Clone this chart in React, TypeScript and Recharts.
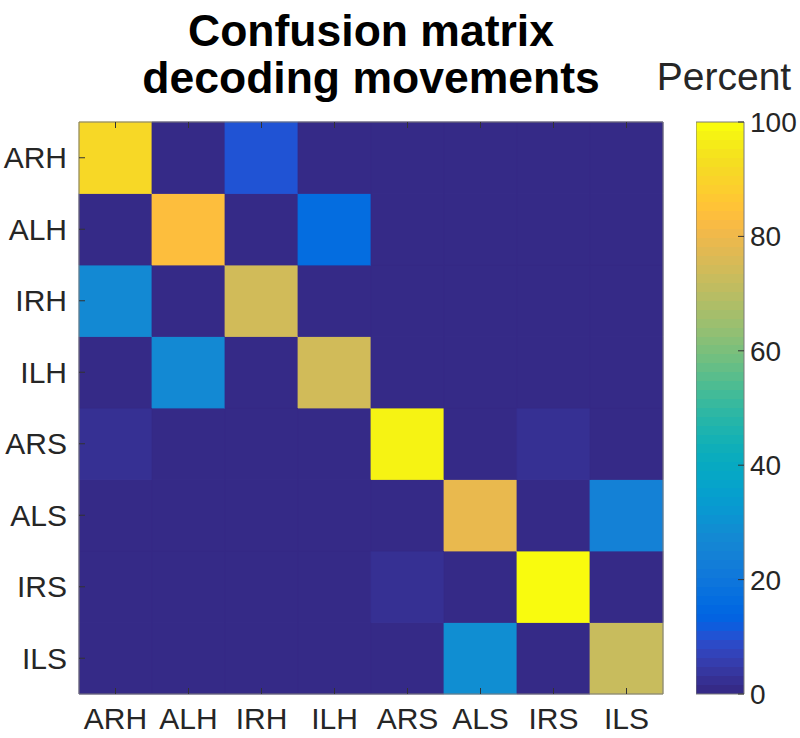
import React from 'react';
import { BarChart, Bar, XAxis, YAxis, Cell } from 'recharts';

// ---------- data ----------
const classLabels = ['ARH', 'ALH', 'IRH', 'ILH', 'ARS', 'ALS', 'IRS', 'ILS'];

// rows = true movement, columns = decoded movement (percent)
const rowARH = [91, 0, 10, 0, 0, 0, 0, 0];
const rowALH = [0, 84, 0, 16, 0, 0, 0, 0];
const rowIRH = [27, 0, 74, 0, 0, 0, 0, 0];
const rowILH = [0, 27, 0, 74, 0, 0, 0, 0];
const rowARS = [3, 0, 0, 0, 97, 0, 3, 0];
const rowALS = [0, 0, 0, 0, 0, 79, 0, 24];
const rowIRS = [0, 0, 0, 0, 3, 0, 100, 0];
const rowILS = [0, 0, 0, 0, 0, 29, 0, 72];
const matrix = [rowARH, rowALH, rowIRH, rowILH, rowARS, rowALS, rowIRS, rowILS];

const rowTickValues = [0.5, 1.5, 2.5, 3.5, 4.5, 5.5, 6.5, 7.5];
const colorbarTicks = [0, 20, 40, 60, 80, 100];
const colorbarMax = 100;
const titleLines = ['Confusion matrix', 'decoding movements'];
const colorbarTitle = 'Percent';

// MATLAB parula(64)
const PARULA: number[][] = [
  [0.2081, 0.1663, 0.5292], [0.2116, 0.1898, 0.5777], [0.2123, 0.2138, 0.627], [0.2081, 0.2386, 0.6771],
  [0.1959, 0.2645, 0.7279], [0.1707, 0.2919, 0.7792], [0.1253, 0.3242, 0.8303], [0.0591, 0.3598, 0.8683],
  [0.0117, 0.3875, 0.882], [0.006, 0.4086, 0.8828], [0.0165, 0.4266, 0.8786], [0.0329, 0.443, 0.872],
  [0.0498, 0.4586, 0.8641], [0.0629, 0.4737, 0.8554], [0.0723, 0.4887, 0.8467], [0.0779, 0.504, 0.8384],
  [0.0793, 0.52, 0.8312], [0.0749, 0.5375, 0.8263], [0.0641, 0.557, 0.824], [0.0488, 0.5772, 0.8228],
  [0.0343, 0.5966, 0.8199], [0.0265, 0.6137, 0.8135], [0.0239, 0.6287, 0.8038], [0.0231, 0.6418, 0.7913],
  [0.0228, 0.6535, 0.7768], [0.0267, 0.6642, 0.7607], [0.0384, 0.6743, 0.7436], [0.059, 0.6838, 0.7254],
  [0.0843, 0.6928, 0.7062], [0.1133, 0.7015, 0.6859], [0.1453, 0.7098, 0.6646], [0.1801, 0.7177, 0.6424],
  [0.2178, 0.725, 0.6193], [0.2586, 0.7317, 0.5954], [0.3022, 0.7376, 0.5712], [0.3482, 0.7424, 0.5473],
  [0.3953, 0.7459, 0.5244], [0.442, 0.7481, 0.5033], [0.4871, 0.7491, 0.484], [0.53, 0.7491, 0.4661],
  [0.5709, 0.7485, 0.4494], [0.6099, 0.7473, 0.4337], [0.6473, 0.7456, 0.4188], [0.6834, 0.7435, 0.4044],
  [0.7184, 0.7411, 0.3905], [0.7525, 0.7384, 0.3768], [0.7858, 0.7356, 0.3633], [0.8185, 0.7327, 0.3498],
  [0.8507, 0.7299, 0.336], [0.8824, 0.7274, 0.3217], [0.9139, 0.7258, 0.3063], [0.945, 0.7261, 0.2886],
  [0.9739, 0.7314, 0.2666], [0.9938, 0.7455, 0.2403], [0.999, 0.7653, 0.2164], [0.9955, 0.7861, 0.1967],
  [0.988, 0.8066, 0.1794], [0.9789, 0.8271, 0.1633], [0.9697, 0.8481, 0.1475], [0.9626, 0.8705, 0.1309],
  [0.9589, 0.8949, 0.1132], [0.9598, 0.9218, 0.0948], [0.9661, 0.9514, 0.0755], [0.9763, 0.9831, 0.0538],
];

const rgb = (c: number[]) =>
  `rgb(${Math.round(c[0] * 255)},${Math.round(c[1] * 255)},${Math.round(c[2] * 255)})`;

const parula = (v: number) => {
  const n = PARULA.length;
  const idx = Math.max(0, Math.min(n - 1, Math.floor((v / colorbarMax) * n)));
  return rgb(PARULA[idx]);
};

// one record per decoded column; every true-movement row occupies one unit slot of the stack
const heatData = classLabels.map((col) => {
  const d: Record<string, any> = { col };
  classLabels.forEach((row) => {
    d[row] = 1;
  });
  return d;
});

const colorbarData = [{ name: colorbarTitle, v: colorbarMax }];

const FONT = '"Liberation Sans", Arial, Helvetica, sans-serif';
const TEXT = '#262626';
const AXIS = '#7a7a7a';
const TICK = '#333333';

export default function App() {
  const stackOrder = [...classLabels].reverse();
  return (
    <div
      style={{
        position: 'absolute',
        left: 0,
        top: 0,
        width: 800,
        height: 738,
        background: '#fff',
        overflow: 'hidden',
        fontFamily: FONT,
      }}
    >
      <div style={{ position: 'absolute', left: 0, top: 0 }}>
        <BarChart
          width={800}
          height={738}
          data={heatData}
          margin={{ top: 92, right: 97, bottom: 14, left: 39 }}
          barCategoryGap={0}
          barGap={0}
        >
          {stackOrder.map((row) => {
            const r = classLabels.indexOf(row);
            return (
              <Bar key={row} dataKey={row} stackId="m" xAxisId="bottom" yAxisId="left" isAnimationActive={false}>
                {classLabels.map((col, j) => {
                  const c = parula(matrix[r][j]);
                  return <Cell key={col} fill={c} stroke={c} strokeWidth={0.8} />;
                })}
              </Bar>
            );
          })}
          <XAxis
            xAxisId="bottom"
            dataKey="col"
            orientation="bottom"
            height={30}
            interval={0}
            tickSize={-6}
            tickMargin={20}
            axisLine={{ stroke: AXIS }}
            tickLine={{ stroke: TICK }}
            tick={{ fontSize: 30, fill: TEXT, fontFamily: FONT }}
          />
          <XAxis
            xAxisId="top"
            dataKey="col"
            orientation="top"
            height={30}
            interval={0}
            tickSize={-6}
            axisLine={{ stroke: AXIS }}
            tickLine={{ stroke: TICK }}
            tickFormatter={() => ''}
          />
          <YAxis
            yAxisId="left"
            type="number"
            orientation="left"
            width={40}
            domain={[0, classLabels.length]}
            ticks={rowTickValues}
            interval={0}
            tickSize={-6}
            tickMargin={18}
            axisLine={{ stroke: AXIS }}
            tickLine={{ stroke: TICK }}
            tick={{ fontSize: 30, fill: TEXT, fontFamily: FONT }}
            tickFormatter={(v: number) => classLabels[classLabels.length - 1 - Math.floor(v)]}
          />
          <YAxis
            yAxisId="right"
            type="number"
            orientation="right"
            width={40}
            domain={[0, classLabels.length]}
            ticks={rowTickValues}
            interval={0}
            tickSize={-6}
            axisLine={{ stroke: AXIS }}
            tickLine={{ stroke: TICK }}
            tickFormatter={() => ''}
          />
        </BarChart>
      </div>

      <div style={{ position: 'absolute', left: 696, top: 0 }}>
        <BarChart
          width={104}
          height={738}
          data={colorbarData}
          margin={{ top: 122, right: 0, bottom: 44, left: 0 }}
          barCategoryGap={0}
        >
          <defs>
            <linearGradient id="parulaGrad" x1="0" y1="1" x2="0" y2="0">
              {PARULA.flatMap((c, i) => [
                <stop key={`a${i}`} offset={i / PARULA.length} stopColor={rgb(c)} />,
                <stop key={`b${i}`} offset={(i + 1) / PARULA.length} stopColor={rgb(c)} />,
              ])}
            </linearGradient>
          </defs>
          <XAxis dataKey="name" hide />
          <Bar dataKey="v" fill="url(#parulaGrad)" stroke={AXIS} strokeWidth={1} isAnimationActive={false} />
          <YAxis
            type="number"
            orientation="right"
            width={56}
            domain={[0, colorbarMax]}
            ticks={colorbarTicks}
            interval={0}
            tickSize={-6}
            tickMargin={12}
            axisLine={false}
            tickLine={{ stroke: TICK }}
            tick={{ fontSize: 28, fill: TEXT, fontFamily: FONT, textAnchor: 'start' }}
          />
        </BarChart>
      </div>

      <svg
        width={800}
        height={738}
        style={{ position: 'absolute', left: 0, top: 0, pointerEvents: 'none' }}
      >
        <text x={371} y={46} textAnchor="middle" fontSize={44.5} fontWeight="bold" fill="#000" fontFamily={FONT}>
          {titleLines[0]}
        </text>
        <text x={371} y={93} textAnchor="middle" fontSize={44.5} fontWeight="bold" fill="#000" fontFamily={FONT}>
          {titleLines[1]}
        </text>
        <text x={724} y={90} textAnchor="middle" fontSize={39} fill={TEXT} fontFamily={FONT}>
          {colorbarTitle}
        </text>
      </svg>
    </div>
  );
}
